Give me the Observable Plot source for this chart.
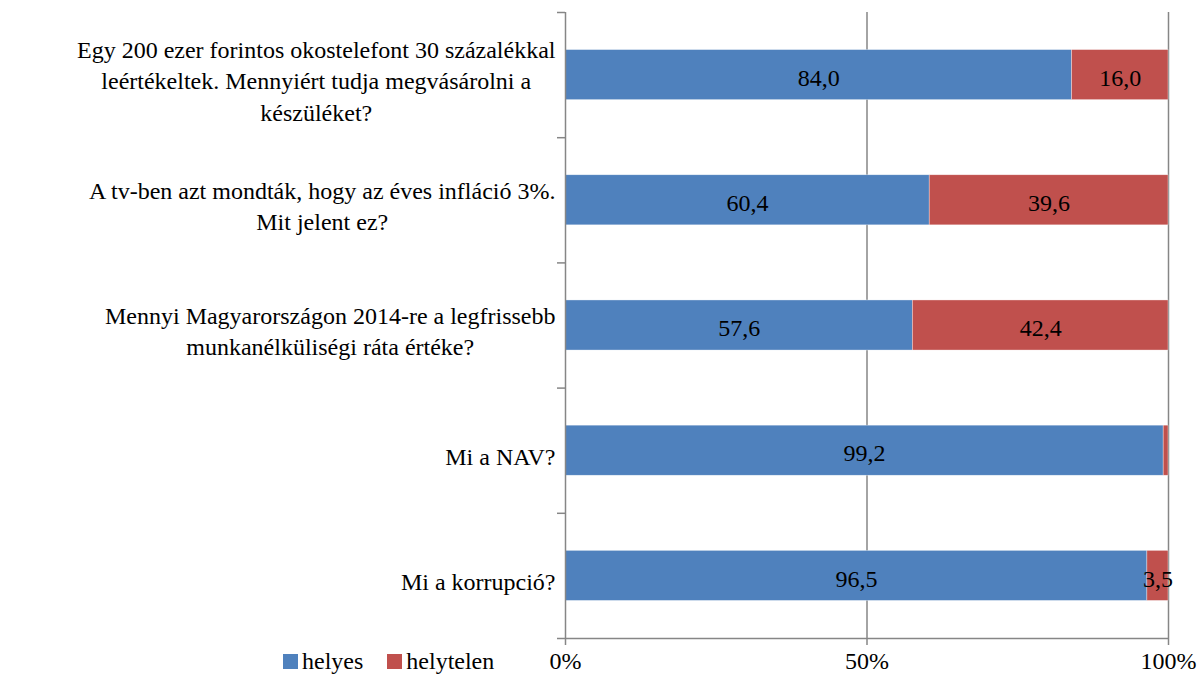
<!DOCTYPE html>
<html>
<head>
<meta charset="utf-8">
<script src="https://cdn.jsdelivr.net/npm/d3@7"></script>
<script src="https://cdn.jsdelivr.net/npm/@observablehq/plot@0.6"></script>
<style>
  .c { font-family: "Times New Roman", "Liberation Serif", "Tinos", "DejaVu Serif", serif; }
  #wrap { position: relative; width: 1198px; height: 679px; }
  #legend { position: absolute; left: 283px; top: 648px; display: flex; align-items: center; font-size: 24px; color: #000; }
  #legend .sw { width: 15px; height: 15px; display: inline-block; margin-right: 4px; }
  #legend .it { display: flex; align-items: center; margin-right: 24px; }
  #meas { position: absolute; visibility: hidden; white-space: nowrap; font-size: 24px; }
  #wrap svg text { font-family: "Times New Roman", "Liberation Serif", "Tinos", "DejaVu Serif", serif; }
</style>
</head>
<body style="margin:0;background:#fff;font-family:'Times New Roman'">
<div id="wrap" class="c"><div id="legend" class="c"></div></div>
<span id="meas" class="c"></span>
<script>
const categories = [
  "Egy 200 ezer forintos okostelefont 30 százalékkal\nleértékeltek. Mennyiért tudja megvásárolni a\nkészüléket?",
  "A tv-ben azt mondták, hogy az éves infláció 3%.\nMit jelent ez?",
  "Mennyi Magyarországon 2014-re a legfrissebb\nmunkanélküliségi ráta értéke?",
  "Mi a NAV?",
  "Mi a korrupció?"
];
const helyes = [84.0, 60.4, 57.6, 99.2, 96.5];
const helytelen = [16.0, 39.6, 42.4, 0.8, 3.5];
const seriesNames = ["helyes", "helytelen"];
const seriesColors = ["#4F81BD", "#C0504D"];
const xTicks = [0, 50, 100];

const fam = '"Times New Roman", "Liberation Serif", "Tinos", "DejaVu Serif", serif';
const fs = 24;

const segments = [];
categories.forEach((c, i) => {
  segments.push({i, series: "helyes", x1: 0, x2: helyes[i], value: helyes[i]});
  segments.push({i, series: "helytelen", x1: helyes[i], x2: helyes[i] + helytelen[i], value: helytelen[i]});
});

const meas = document.getElementById("meas");
const textW = s => { meas.textContent = s; return meas.getBoundingClientRect().width; };
const blockW = categories.map(c => d3.max(c.split("\n"), textW));

const axisColor = "#868686";

const labelMarks = categories.map((c, i) =>
  Plot.text([c], {
    frameAnchor: "left", y: () => i + 0.5, text: d => d,
    textAnchor: "middle", lineAnchor: "middle", lineHeight: 1.31,
    dx: -10 - blockW[i] / 2, dy: 4, fontSize: fs, fontFamily: fam, fill: "#000"
  })
);

const chart = Plot.plot({
  width: 1198, height: 679,
  marginTop: 12, marginBottom: 41, marginLeft: 565, marginRight: 30,
  style: {fontFamily: fam, fontSize: fs + "px", background: "#fff", color: "#000"},
  x: {domain: [0, 100]},
  y: {domain: [0, 5], reverse: true},
  color: {domain: seriesNames, range: seriesColors},
  marks: [
    Plot.ruleX([50, 100], {x: d => d, stroke: axisColor, strokeWidth: 1.5}),
    Plot.rect(segments, {x1: "x1", x2: "x2", y1: d => d.i + 0.3, y2: d => d.i + 0.7, fill: "series",
      stroke: "#fff", strokeWidth: 0.6, strokeOpacity: 0.6}),
    Plot.text(segments.filter(d => d.value >= 2), {
      x: d => (d.x1 + d.x2) / 2, y: d => d.i + 0.5,
      text: d => d.value.toFixed(1).replace(".", ","), fontSize: fs, fontFamily: fam, fill: "#000", dy: 3
    }),
    Plot.ruleX([0], {stroke: axisColor, strokeWidth: 1.5}),
    Plot.ruleY([5], {stroke: axisColor, strokeWidth: 1.5}),
    Plot.axisY({ticks: d3.range(6), tickSize: 8, tickFormat: () => "", stroke: axisColor, strokeWidth: 1.5}),
    Plot.axisX({ticks: xTicks, tickSize: 7, tickPadding: 6, tickFormat: d => d + "%",
      stroke: axisColor, strokeWidth: 1.5, fontSize: fs, fontFamily: fam, fill: "#000", label: null}),
    ...labelMarks
  ]
});
document.getElementById("wrap").prepend(chart);

const legend = document.getElementById("legend");
seriesNames.forEach((s, k) => {
  const it = document.createElement("span");
  it.className = "it";
  it.innerHTML = `<span class="sw" style="background:${seriesColors[k]}"></span>${s}`;
  legend.appendChild(it);
});
</script>
</body>
</html>
